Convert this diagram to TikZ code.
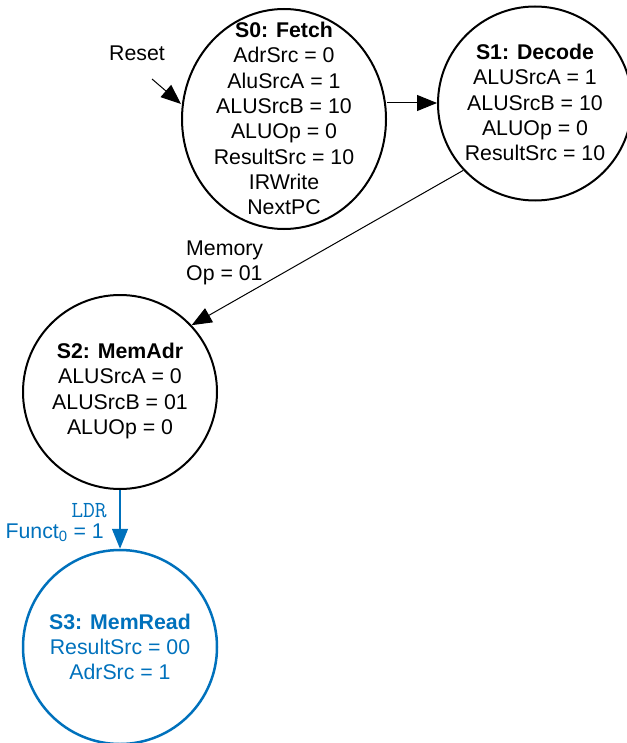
\documentclass[tikz,border=0pt]{standalone}
\usepackage{fontspec}
\setmainfont{Liberation Sans}
\usetikzlibrary{shapes.geometric,arrows.meta}
\definecolor{fsmblue}{RGB}{0,113,188}
\tikzset{
  statebox/.style={draw, line width=2pt, inner sep=0pt},
  statetext/.style={align=center, inner sep=0pt, font=\fontsize{21.3}{25.3}\selectfont},
  lbl/.style={inner sep=0pt, font=\fontsize{21.3}{25}\selectfont},
  conn/.style={line width=1pt, -{Triangle[length=20pt,width=16pt]}},
}
\begin{document}
\begin{tikzpicture}[x=1pt,y=-1pt]
\useasboundingbox (0,0) rectangle (626,743);
% states
\node[statebox, ellipse, minimum width=204pt, minimum height=220pt] (s0) at (284,119) {};
\node[statetext] (s0t) at (284,118.5) {\textbf{S0: Fetch}\\AdrSrc = 0\\AluSrcA = 1\\ALUSrcB = 10\\ALUOp = 0\\ResultSrc = 10\\IRWrite\\NextPC};
\node[statebox, circle, minimum size=194pt] (s1) at (535,103.5) {};
\node[statetext] (s1t) at (535,102.5) {\textbf{S1: Decode}\\ALUSrcA = 1\\ALUSrcB = 10\\ALUOp = 0\\ResultSrc = 10};
\node[statebox, circle, minimum size=194pt] (s2) at (120,392) {};
\node[statetext] (s2t) at (120,391) {\textbf{S2: MemAdr}\\ALUSrcA = 0\\ALUSrcB = 01\\ALUOp = 0};
\node[statebox, circle, minimum size=194pt, draw=fsmblue, line width=2.5pt] (s3) at (120,647) {};
\node[statetext, text=fsmblue] (s3t) at (120,647) {\textbf{S3: MemRead}\\ResultSrc = 00\\AdrSrc = 1};
% reset
\node[lbl] (reset) at (137,53) {Reset};
\coordinate (rst) at (152,79);
\draw[conn] (rst) -- (s0.west |- 0,104);
% transitions
\draw[conn] (s0.east |- 0,103) -- (s1.west |- 0,103);
\draw[conn] (s1.223) -- (s2.43);
\node[lbl, anchor=west, align=left] (mem) at (186,263) {Memory\\Op = 01};
\draw[conn, draw=fsmblue, fill=fsmblue, line width=1.4pt] (s2.south) -- (s3.north);
\node[inner sep=0pt, text=fsmblue, font=\ttfamily\fontsize{23}{26}\selectfont, anchor=east] (ldr) at (107,511) {LDR};
\node[lbl, text=fsmblue, anchor=east] (funct) at (104,533) {Funct\textsubscript{0} = 1};
\end{tikzpicture}
\end{document}
